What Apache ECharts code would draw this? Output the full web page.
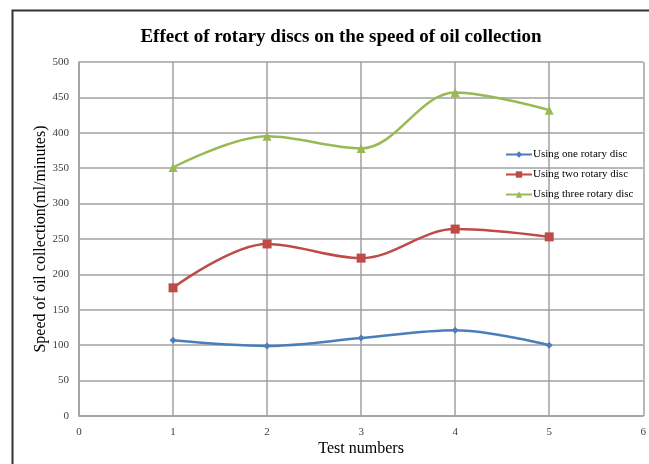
<!DOCTYPE html>
<html><head><meta charset="utf-8">
<script src="https://cdn.jsdelivr.net/npm/echarts@6/dist/echarts.min.js"></script>
<style>html,body{margin:0;padding:0;background:#fff}#c{width:649px;height:464px}</style>
</head><body><div id="c"></div>
<script>
const testNumbers = [1, 2, 3, 4, 5];
const oneDisc = [107, 99, 110, 121, 100];
const twoDisc = [181, 243, 223, 264, 253];
const threeDisc = [351, 395, 378, 457, 432];
const seriesNames = ['Using one rotary disc', 'Using two rotary disc', 'Using three rotary disc'];

const pairs = arr => testNumbers.map((x, i) => [x, arr[i]]);
const font = 'Liberation Serif';
const chart = echarts.init(document.getElementById('c'));
chart.setOption({
  animation: false,
  backgroundColor: '#fff',
  title: {
    text: 'Effect of rotary discs on the speed of oil collection',
    left: 336, top: 23, textAlign: 'center',
    textStyle: { fontFamily: font, fontSize: 19, fontWeight: 'bold', color: '#000' }
  },
  legend: {
    orient: 'vertical', left: 500, top: 144, itemGap: 9,
    itemWidth: 26, itemHeight: 8,
    textStyle: { fontFamily: font, fontSize: 11, color: '#000', padding: [0, 0, 0, -4] },
    data: seriesNames
  },
  grid: { left: 79, right: 1, top: 62, bottom: 48 },
  xAxis: {
    type: 'value', min: 0, max: 6, interval: 1,
    name: 'Test numbers', nameLocation: 'middle', nameGap: 25, nameMoveOverlap: false,
    nameTextStyle: { fontFamily: font, fontSize: 16, color: '#000' },
    axisLine: { lineStyle: { color: '#a0a0a0', width: 1.5 } },
    axisTick: { show: false },
    axisLabel: { fontFamily: font, fontSize: 11, color: '#404040', margin: 11 },
    splitLine: { show: true, lineStyle: { color: '#a0a0a0', width: 1.5 } }
  },
  yAxis: {
    type: 'value', min: 0, max: 500, interval: 50,
    name: 'Speed of oil collection(ml/minutes)', nameLocation: 'middle', nameGap: 30, nameMoveOverlap: false,
    nameTextStyle: { fontFamily: font, fontSize: 16, color: '#000' },
    axisLine: { show: true, lineStyle: { color: '#a0a0a0', width: 1.5 } },
    axisTick: { show: false },
    axisLabel: { fontFamily: font, fontSize: 11, color: '#404040', margin: 10 },
    splitLine: { show: true, lineStyle: { color: '#a0a0a0', width: 1.5 } }
  },
  graphic: [{
    type: 'rect', left: 10, top: 8, z: 100, silent: true,
    shape: { width: 660, height: 480 },
    style: { fill: 'none', stroke: '#333', lineWidth: 2 }
  }],
  series: [
    { name: seriesNames[0], type: 'line', smooth: 0.35, data: pairs(oneDisc),
      symbol: 'diamond', symbolSize: 7, color: '#4a7ebb', lineStyle: { width: 2.5 } },
    { name: seriesNames[1], type: 'line', smooth: 0.35, data: pairs(twoDisc),
      symbol: 'rect', symbolSize: 9, color: '#be4b48', lineStyle: { width: 2.5 } },
    { name: seriesNames[2], type: 'line', smooth: 0.35, data: pairs(threeDisc),
      symbol: 'triangle', symbolSize: 9, color: '#98b954', lineStyle: { width: 2.5 } }
  ]
});
</script></body></html>
